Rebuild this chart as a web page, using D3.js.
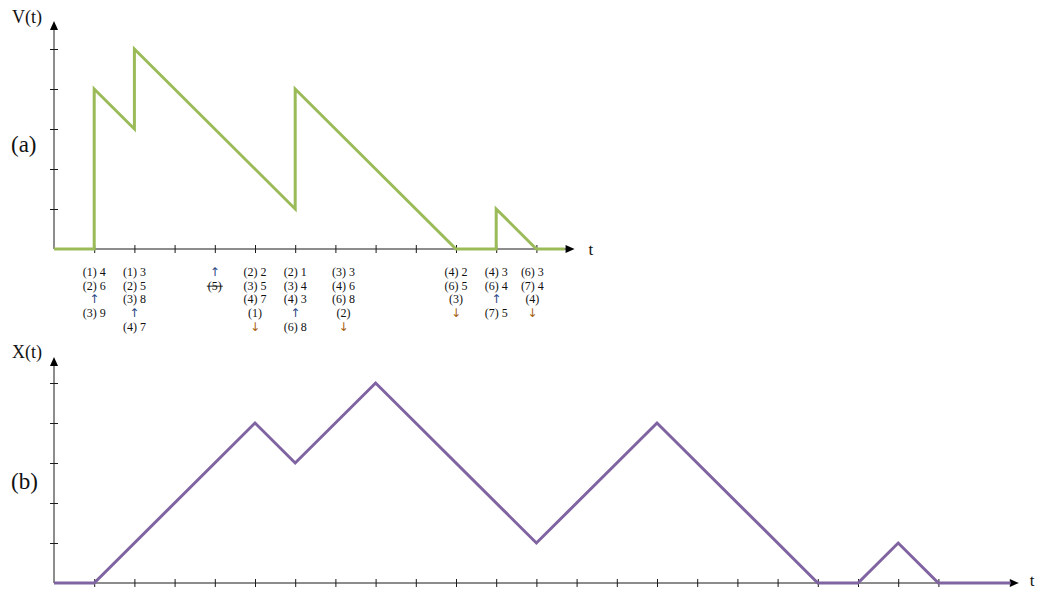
<!DOCTYPE html>
<html>
<head>
<meta charset="utf-8">
<script src="https://cdn.jsdelivr.net/npm/d3@7/dist/d3.min.js"></script>
<style>
  html, body { margin: 0; padding: 0; background: #fff; }
  svg { display: block; }
  text { font-family: "Liberation Serif", "DejaVu Serif", serif; fill: #111; }
</style>
</head>
<body>
<svg id="chart" width="1039" height="591"></svg>
<script>
// ---------- data ----------
const vTimes  = [0, 1, 1, 2, 2, 6, 6, 10, 11, 11, 12, 12.7];
const vValues = [0, 0, 4, 3, 5, 1, 4, 0, 0, 1, 0, 0];
const xTimes  = [0, 1, 5, 6, 8, 12, 15, 19, 20, 21, 22, 23.8];
const xValues = [0, 0, 4, 3, 5, 1, 4, 0, 0, 1, 0, 0];

const topTicks = [1,2,3,4,5,6,7,8,9,10,11,12];
const bottomTicks = d3.range(1, 23);
const yTicks = [1,2,3,4,5];

const annotTimes = [1, 2, 4, 5, 6, 7.2, 10, 11, 11.9];
const annotLines = [
  ["(1) 4", "(2) 6", "↑", "(3) 9"],
  ["(1) 3", "(2) 5", "(3) 8", "↑", "(4) 7"],
  ["↑", "~(5)"],
  ["(2) 2", "(3) 5", "(4) 7", "(1)", "↓"],
  ["(2) 1", "(3) 4", "(4) 3", "↑", "(6) 8"],
  ["(3) 3", "(4) 6", "(6) 8", "(2)", "↓"],
  ["(4) 2", "(6) 5", "(3)", "↓"],
  ["(4) 3", "(6) 4", "↑", "(7) 5"],
  ["(6) 3", "(7) 4", "(4)", "↓"]
];

// ---------- layout ----------
const svg = d3.select("#chart");
const unit = 40.2;
const x0 = 54;
const xTop = d3.scaleLinear().domain([0, 1]).range([x0, x0 + unit]);
const xBot = xTop.copy();
const yTop = d3.scaleLinear().domain([0, 5]).range([249, 49]);
const yBot = d3.scaleLinear().domain([0, 5]).range([583, 383]);

const axisColor = "#1a1a1a";

function drawPanel(xs, ys, ticks, xEnd, yEnd, times, values, color, yLabel, panelLabel, labelY, panelY, tOffset, tDy) {
  const g = svg.append("g");
  // x axis
  const ax = d3.axisBottom(xs).tickValues(ticks).tickSize(4).tickFormat("");
  const gx = g.append("g").attr("transform", `translate(0,${ys(0)})`).call(ax);
  gx.select(".domain").remove();
  gx.selectAll(".tick line").attr("y1", -4).attr("y2", 4).attr("stroke", axisColor);
  g.append("line")
    .attr("x1", xs(0)).attr("x2", xs(xEnd) - 6)
    .attr("y1", ys(0)).attr("y2", ys(0))
    .attr("stroke", axisColor).attr("stroke-width", 1);
  g.append("path")
    .attr("d", `M${xs(xEnd)},${ys(0)} L${xs(xEnd) - 9},${ys(0) - 4} L${xs(xEnd) - 9},${ys(0) + 4} Z`)
    .attr("fill", "#000");
  // y axis
  const ay = d3.axisLeft(ys).tickValues(yTicks).tickSize(4).tickFormat("");
  const gy = g.append("g").attr("transform", `translate(${xs(0)},0)`).call(ay);
  gy.select(".domain").remove();
  gy.selectAll(".tick line").attr("x1", -4).attr("x2", 4).attr("stroke", axisColor);
  g.append("line")
    .attr("x1", xs(0)).attr("x2", xs(0))
    .attr("y1", ys(0)).attr("y2", ys(yEnd) + 6)
    .attr("stroke", axisColor).attr("stroke-width", 1);
  g.append("path")
    .attr("d", `M${xs(0)},${ys(yEnd)} L${xs(0) - 4},${ys(yEnd) + 9} L${xs(0) + 4},${ys(yEnd) + 9} Z`)
    .attr("fill", "#000");
  // series
  const pts = times.map((t, i) => [t, values[i]]);
  g.append("path")
    .datum(pts)
    .attr("d", d3.line().x(d => xs(d[0])).y(d => ys(d[1])))
    .attr("fill", "none")
    .attr("stroke", color)
    .attr("stroke-width", 3)
    .attr("stroke-linejoin", "miter");
  // labels
  g.append("text").attr("x", 12).attr("y", labelY).attr("font-size", 18).text(yLabel);
  g.append("text").attr("x", 11).attr("y", panelY).attr("font-size", 23).text(panelLabel);
  g.append("text").attr("x", xs(xEnd) + tOffset).attr("y", ys(0) + tDy).attr("font-size", 17).text("t");
}

drawPanel(xTop, yTop, topTicks, 12.95, 5.7, vTimes, vValues, "#9bbb59", "V(t)", "(a)", 23, 152, 14, 6);
drawPanel(xBot, yBot, bottomTicks, 24.0, 5.65, xTimes, xValues, "#8064a2", "X(t)", "(b)", 358, 489, 11, 3);

// ---------- annotations ----------
const rowY0 = 276, rowStep = 13.7;
const ga = svg.append("g");
annotTimes.forEach((t, ci) => {
  annotLines[ci].forEach((s, ri) => {
    const strike = s.startsWith("~");
    const txt = strike ? s.slice(1) : s;
    const isUp = txt === "↑", isDown = txt === "↓";
    let color = "#111";
    if (isUp) color = "#2a4a86";
    if (isDown) color = "#a8600f";
    const el = ga.append("text")
      .attr("x", xTop(t))
      .attr("y", rowY0 + ri * rowStep)
      .attr("text-anchor", "middle")
      .attr("font-size", 12)
      .style("font-family", (isUp || isDown) ? "'DejaVu Sans', sans-serif" : null)
      .style("fill", color)
      .text(txt);
    if (strike) {
      const bb = el.node().getBBox();
      ga.append("line")
        .attr("x1", bb.x - 1).attr("x2", bb.x + bb.width + 1)
        .attr("y1", rowY0 + ri * rowStep - 3.5).attr("y2", rowY0 + ri * rowStep - 3.5)
        .attr("stroke", "#111").attr("stroke-width", 0.9);
    }
  });
});
</script>
</body>
</html>
